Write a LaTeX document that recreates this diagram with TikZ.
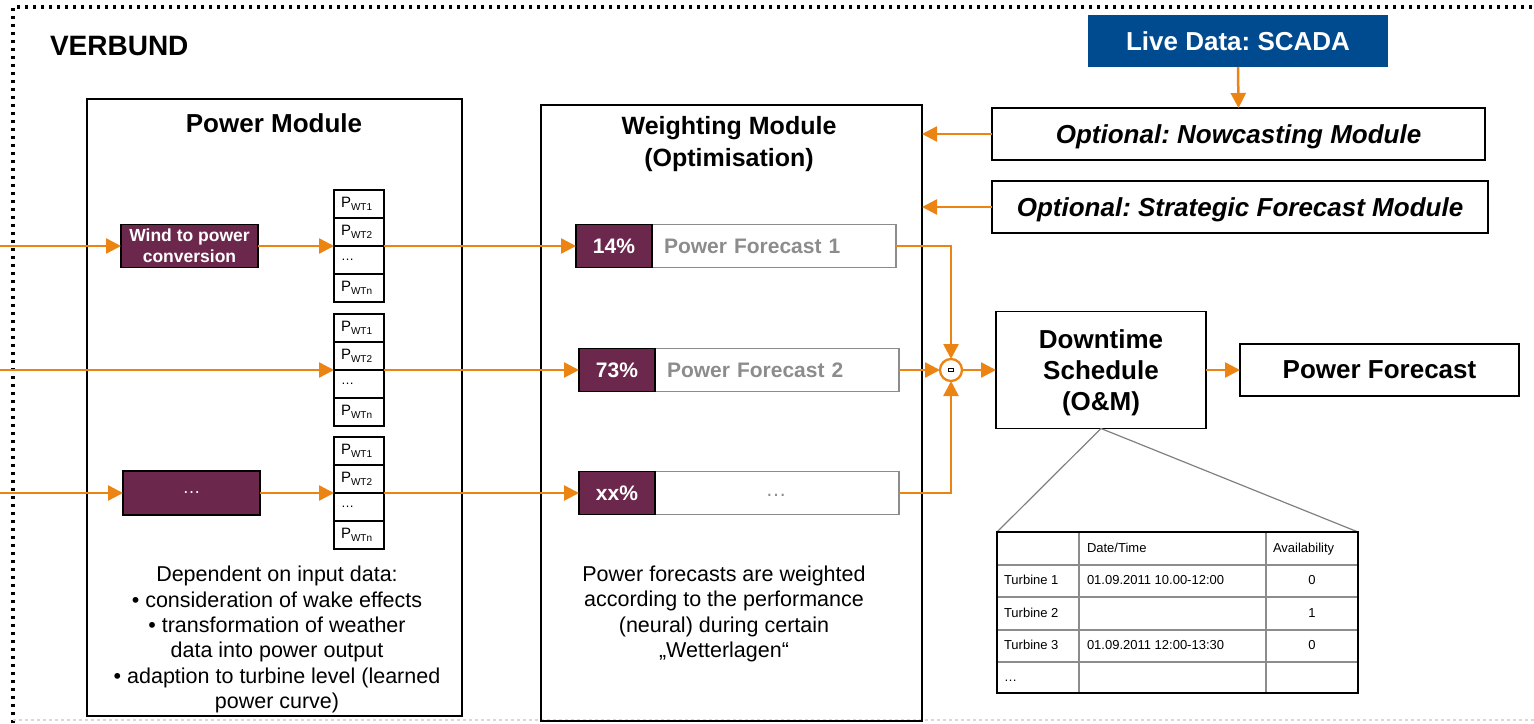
\documentclass[tikz,border=0pt]{standalone}
\usepackage{fontspec}
\setmainfont{Liberation Sans}
\usetikzlibrary{arrows.meta}
\definecolor{orng}{RGB}{236,132,20}
\definecolor{purp}{RGB}{108,40,76}
\definecolor{vblue}{RGB}{0,74,143}
\definecolor{fgray}{RGB}{140,140,140}
\newcommand\fsz[2]{\fontsize{#1}{#2}\selectfont}
\frenchspacing
\begin{document}
\frenchspacing
\begin{tikzpicture}[x=1pt,y=-1pt,
  every node/.style={inner sep=0pt, outer sep=0pt},
  box/.style={draw=black, line width=1.5pt},
  pbox/.style={draw=black, line width=1.5pt, fill=purp, text=white},
  cellbox/.style={draw=black, line width=1.5pt, minimum width=50pt, minimum height=28pt, text width=36pt, align=left, font=\fsz{15}{18}},
  fbox/.style={draw=fgray, line width=1.5pt, minimum width=244pt, minimum height=43pt, text width=220pt, align=left, text=fgray, font=\bfseries\fsz{21}{25}, text depth=0pt},
  pct/.style={pbox, minimum width=76pt, minimum height=43pt, font=\bfseries\fsz{21}{25}, text depth=0pt},
  arr/.style={draw=orng, line width=2.5pt, -{Triangle[length=15pt,width=15pt]}},
  tline/.style={draw=fgray, line width=1.5pt},
  ttext/.style={font=\fsz{13}{16}, text height=9.5pt, text depth=2.5pt},
  title/.style={font=\bfseries\fsz{26}{31}, align=center, text depth=0pt},
  body/.style={font=\fsz{21.5}{25.3}, align=center}
]
\useasboundingbox (0,0) rectangle (1534,723);

% outer frame
\draw[line width=3.5pt, dash pattern=on 3pt off 5pt] (13,723) -- (13,7) -- (1534,7);
\draw[gray!30, line width=1.5pt, dashed] (13,720) -- (1534,720);
\node[font=\bfseries\fsz{28}{33}, anchor=west, text depth=0pt] (verbund) at (50,46) {VERBUND};

% power module
\node[box, minimum width=375pt, minimum height=617pt] (pm) at (274.5,407.5) {};
\node[title] (pmt) at (274,123) {Power Module};

% weighting module
\node[box, minimum width=381pt, minimum height=616pt] (wm) at (731.5,413) {};
\node[title, font=\bfseries\fsz{25}{32}] (wmt) at (729,141) {Weighting Module\\(Optimisation)};

% conversion boxes
\node[pbox, minimum width=137pt, minimum height=43pt, align=center, font=\bfseries\fsz{17.5}{21}] (w2p) at (189.5,246) {Wind to power\\conversion};
\node[pbox, minimum width=137pt, minimum height=44pt, font=\fsz{18}{21}] (cdots) at (191.5,493) {…};

% stacks
\foreach \s/\t in {1/190,2/314,3/437} {
  \node[cellbox] (s\s a) at (359,\t+14) {P\raisebox{-3pt}{\fsz{10}{12}WT1}};
  \node[cellbox] (s\s b) at (359,\t+42) {P\raisebox{-3pt}{\fsz{10}{12}WT2}};
  \node[cellbox, font=\fsz{13}{16}] (s\s c) at (359,\t+70) {…};
  \node[cellbox] (s\s d) at (359,\t+98) {P\raisebox{-3pt}{\fsz{10}{12}WTn}};
}

% input arrows
\coordinate (in1) at (0,246);
\coordinate (in2) at (0,370);
\coordinate (in3) at (0,493);
\draw[arr] (in1) -- (w2p.west);
\draw[arr] (w2p.east) -- (s1b.south west);
\draw[arr] (in2) -- (s2b.south west);
\draw[arr] (in3) -- (cdots.west);
\draw[arr] (cdots.east) -- (s3b.south west);

% forecast rows
\node[fbox, anchor=west] (f1) at (652,246) {Power Forecast 1};
\node[pct] (p1) at (614,246) {14\%};
\node[fbox, anchor=west] (f2) at (655,370) {Power Forecast 2};
\node[pct] (p2) at (617,370) {73\%};
\node[fbox, anchor=west] (f3) at (655,493) {};
\node[pct] (p3) at (617,493) {xx\%};
\node[text=fgray, font=\fsz{21}{25}] (f3t) at (776,495) {…};

\draw[arr] (s1b.south east) -- (p1.west);
\draw[arr] (s2b.south east) -- (p2.west);
\draw[arr] (s3b.south east) -- (p3.west);

% summation
\node[circle, draw=orng, line width=2.3pt, minimum size=22pt, fill=white] (sum) at (951,370) {};
\draw[line width=0.7pt] (948.5,368.5) rectangle (953.5,371.5);
\draw[arr] (f1.east) -| (sum.north);
\draw[arr] (f2.east) -- (sum.west);
\draw[arr] (f3.east) -| (sum.south);

% downtime + output
\node[box, minimum width=210pt, minimum height=117pt, title] (dt) at (1101,370) {Downtime\\Schedule\\(O\&M)};
\node[box, minimum width=279pt, minimum height=52pt, title] (pf) at (1379.5,370) {Power Forecast};
\draw[arr] (sum.east) -- (dt.west);
\draw[arr] (dt.east) -- (pf.west);

% SCADA and optional modules
\node[fill=vblue, minimum width=300pt, minimum height=52pt, text=white, title] (scada) at (1238,41) {Live Data: SCADA};
\node[box, minimum width=493pt, minimum height=52pt, font=\bfseries\itshape\fsz{26}{31}, text depth=0pt] (now) at (1238.5,134) {Optional: Nowcasting Module};
\node[box, minimum width=496pt, minimum height=52pt, font=\bfseries\itshape\fsz{26}{31}, text depth=0pt] (strat) at (1240,207) {Optional: Strategic Forecast Module};
\draw[arr] (scada.south) -- (now.north);
\draw[arr] (now.west) -- (wm.east |- now.west);
\draw[arr] (strat.west) -- (wm.east |- strat.west);

% table
\node[draw=black, line width=1.8pt, minimum width=361pt, minimum height=161pt] (tbl) at (1177.5,612.5) {};
\draw[gray, line width=1.2pt] (tbl.north west) -- (dt.south) -- (tbl.north east);
\foreach \yy in {565,597,630,662} \draw[tline] (997,\yy) -- (1358,\yy);
\foreach \xx in {1079,1266} \draw[tline] (\xx,532) -- (\xx,693);
\draw[draw=black, line width=1.8pt] (997,532) rectangle (1358,693);
\node[ttext, anchor=west] (h2) at (1087,548.5) {Date/Time};
\node[ttext, anchor=west] (h3) at (1273,548.5) {Availability};
\node[ttext, anchor=west] (r1) at (1004,581) {Turbine 1};
\node[ttext, anchor=west] (r1d) at (1087,581) {01.09.2011 10.00-12:00};
\node[ttext] (r1a) at (1312,581) {0};
\node[ttext, anchor=west] (r2) at (1004,613.5) {Turbine 2};
\node[ttext] (r2a) at (1312,613.5) {1};
\node[ttext, anchor=west] (r3) at (1004,646) {Turbine 3};
\node[ttext, anchor=west] (r3d) at (1087,646) {01.09.2011 12:00-13:30};
\node[ttext] (r3a) at (1312,646) {0};
\node[ttext, anchor=west] (r4) at (1004,677.5) {…};

% descriptions
\node[body] (pmdesc) at (277,639.5) {Dependent on input data:\\• consideration of wake effects\\• transformation of weather\\data into power output\\• adaption to turbine level (learned\\power curve)};
\node[body] (wmdesc) at (724,614) {Power forecasts are weighted\\according to the performance\\(neural) during certain\\„Wetterlagen“};
\end{tikzpicture}
\end{document}
